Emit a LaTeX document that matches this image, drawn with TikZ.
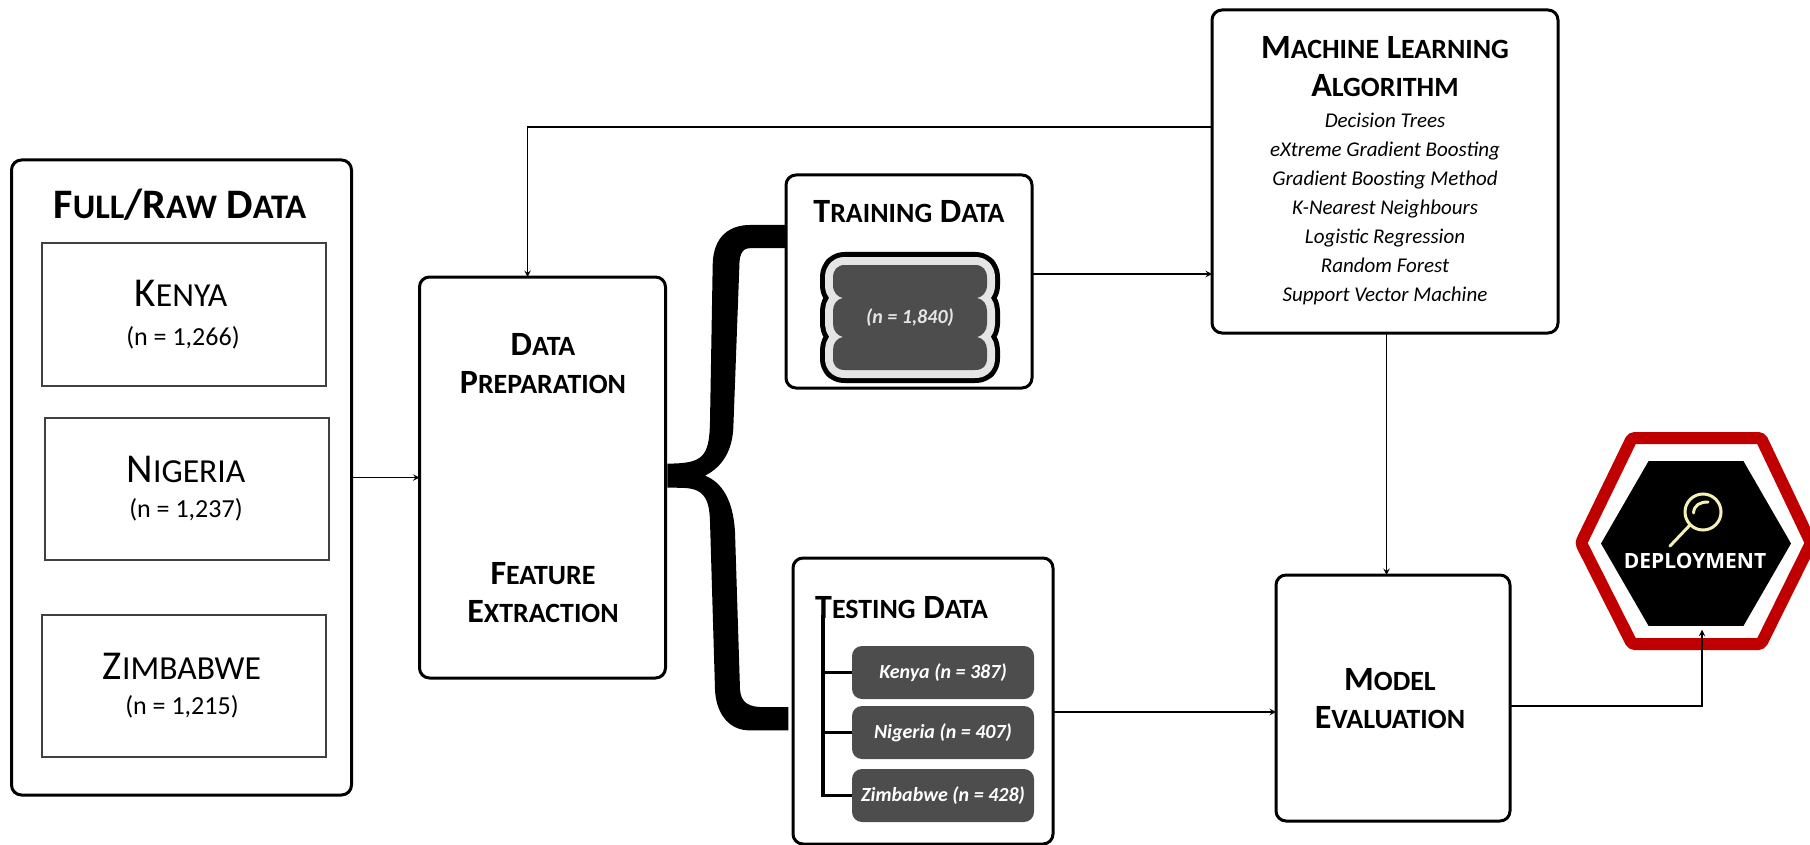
\documentclass[tikz,border=0pt]{standalone}
\usepackage{fontspec}
\setmainfont{Carlito}
\newfontfamily\deployfont{Open Sans}
\usetikzlibrary{positioning,shapes.geometric}
\definecolor{pilldrk}{HTML}{4d4d4d}
\definecolor{rimgray}{HTML}{e5e5e5}
\definecolor{hexred}{HTML}{c00000}
\definecolor{lenscream}{HTML}{f5f0b5}
\newcommand{\low}[1]{\scalebox{0.82}{#1}}
\tikzset{
	mainbox/.style={draw, rounded corners=10pt, line width=3pt, inner sep=0pt, outer sep=0pt},
	thinbox/.style={draw=black!75, line width=1.3pt, inner sep=0pt, outer sep=0pt},
	pill/.style={fill=pilldrk, rounded corners=10pt, minimum width=182pt, minimum height=53pt, inner sep=0pt, outer sep=0pt, text=white, font=\fontsize{20}{24}\selectfont\bfseries\itshape},
	bigtitle/.style={align=center, font=\fontsize{42}{45}\selectfont\bfseries},
	midtitle/.style={align=center, font=\fontsize{34}{38}\selectfont\bfseries},
	country/.style={font=\fontsize{41}{44}\selectfont},
	count/.style={font=\fontsize{26}{28}\selectfont},
	flow/.style={line width=1.8pt, -stealth},
}
\def\drumpath{(845,265) -- (975,265) .. controls (983,265) and (987,270) .. (987,278) -- (987,285) .. controls (987,293) and (982,297) .. (977,298) .. controls (983,299) and (987,304) .. (987,311) -- (987,324) .. controls (987,331) and (982,336) .. (977,337) .. controls (983,338) and (987,343) .. (987,350) -- (987,358) .. controls (987,366) and (983,370) .. (975,370) -- (845,370) .. controls (837,370) and (833,366) .. (833,358) -- (833,350) .. controls (833,343) and (837,338) .. (843,337) .. controls (838,336) and (833,331) .. (833,324) -- (833,311) .. controls (833,304) and (837,299) .. (843,298) .. controls (838,297) and (833,293) .. (833,285) -- (833,278) .. controls (833,270) and (837,265) .. (845,265) -- cycle}

\begin{document}
\begin{tikzpicture}[x=1pt, y=-1pt]
	\useasboundingbox (0,0) rectangle (1810,845);

	% left column
	\node[mainbox, minimum width=340pt, minimum height=635pt] (raw) at (181.5,477.5) {};
	\node[bigtitle] (rawtitle) at (180,205) {F\low{ULL}/R\low{AW} D\low{ATA}};
	\node[thinbox, minimum width=284pt, minimum height=143pt] (kenya) at (184,314.5) {};
	\node[thinbox, minimum width=284pt, minimum height=142pt, below=32pt of kenya, xshift=3pt] (nigeria) {};
	\node[thinbox, minimum width=284pt, minimum height=142pt, below=55pt of nigeria, xshift=-3pt] (zimbabwe) {};
	\node[country] (kenyaname) at (181,293) {K\low{ENYA}};
	\node[count, below=45pt of kenyaname.center, anchor=center, xshift=2pt] (kenyan) {(n = 1,266)};
	\node[country] (nigerianame) at (186,469) {N\low{IGERIA}};
	\node[count, below=41pt of nigerianame.center, anchor=center] (nigerian) {(n = 1,237)};
	\node[country] (zimbabwename) at (182,666) {Z\low{IMBABWE}};
	\node[count, below=41pt of zimbabwename.center, anchor=center] (zimbabwen) {(n = 1,215)};

	% preparation
	\node[mainbox, minimum width=246pt, minimum height=401pt, right=68pt of raw] (prep) {};
	\node[midtitle] (preptext) at (543,364) {D\low{ATA}\\P\low{REPARATION}};
	\node[midtitle] (feattext) at (543,593) {F\low{EATURE}\\E\low{XTRACTION}};

	% brace
	\fill (667.3,463.6) .. controls (703.3,463.6) and (709.3,457) .. (710,421.5) -- (712.7,264.3) .. controls (713.3,236) and (730,225) .. (750,225) -- (786.7,225) -- (786.7,248.2) -- (750,248.2) .. controls (740.7,248.2) and (739.3,257.1) .. (739.3,267.8) -- (733.3,428.5) .. controls (731.7,457.1) and (716.7,469.7) .. (705,475.7) .. controls (721.7,482.1) and (733.3,500) .. (735,532.1) -- (740,689.3) .. controls (740.7,703.6) and (750,707.1) .. (763.3,707.1) -- (788.3,707.1) -- (788.3,730.4) -- (750,730.4) .. controls (726.7,730.4) and (715.7,710.7) .. (715,689.3) -- (710,521.4) .. controls (709.3,500) and (705,488.5) .. (683.3,487.9) -- (667.3,487.5) -- cycle;

	% training
	\node[mainbox, minimum width=246pt, minimum height=213pt] (training) at (909,281.5) {};
	\node[midtitle] (trainingtitle) at (909,212) {T\low{RAINING} D\low{ATA}};
	\draw[black, line width=26pt, line join=round] \drumpath;
	\draw[rimgray, line width=16pt, line join=round] \drumpath;
	\fill[pilldrk] \drumpath;
	\node[text=rimgray, font=\fontsize{20}{24}\selectfont\bfseries\itshape] (trainingn) at (910,318) {(n = 1,840)};

	% testing
	\node[mainbox, minimum width=260pt, minimum height=286pt] (testing) at (923,701) {};
	\node[pill] (testkenya) at (943,672.5) {Kenya (n = 387)};
	\node[pill, below=7pt of testkenya] (testnigeria) {Nigeria (n = 407)};
	\node[pill, below=10pt of testnigeria] (testzimbabwe) {Zimbabwe (n = 428)};
	\node[midtitle, anchor=west, inner sep=0pt] (testingtitle) at (815,608) {T\low{ESTING} D\low{ATA}};
	\coordinate (treetop) at (823,615);
	\draw[line width=3.5pt] (treetop) |- (testzimbabwe.west);
	\draw[line width=3.5pt] (treetop |- testkenya.west) -- (testkenya.west);
	\draw[line width=3.5pt] (treetop |- testnigeria.west) -- (testnigeria.west);

	% algorithm
	\node[mainbox, minimum width=346pt, minimum height=323pt] (algo) at (1385,171.5) {};
	\node[midtitle] (algotitle) at (1385,67) {M\low{ACHINE} L\low{EARNING}\\A\low{LGORITHM}};
	\node[align=center, font=\fontsize{21}{29}\selectfont\itshape] (algolist) at (1385,209) {Decision Trees\\eXtreme Gradient Boosting\\Gradient Boosting Method\\K-Nearest Neighbours\\Logistic Regression\\Random Forest\\Support Vector Machine};

	% evaluation
	\node[mainbox, minimum width=234pt, minimum height=246pt] (evalbox) at (1393,698) {};
	\node[midtitle] (evaltext) at (1390,699) {M\low{ODEL}\\E\low{VALUATION}};

	% deployment
	\draw[hexred, line width=12pt, rounded corners=3pt] (1581,543) -- (1632,438) -- (1761,438) -- (1811,543) -- (1761,644) -- (1632,644) -- cycle;
	\node[regular polygon, regular polygon sides=6, fill=black, minimum size=190pt, inner sep=0pt, outer sep=0pt] (deploy) at (1696,543.5) {};
	\draw[lenscream, line width=3pt] (1703,512) circle (18);
	\draw[lenscream, line width=3pt, line cap=round] (1690,525) -- (1670,546);
	\draw[lenscream, line width=3pt, line cap=round] (1693.5,513) .. controls (1694,505) and (1700,502) .. (1708,502);
	\node[text=white, font=\fontsize{21}{24}\selectfont\deployfont\bfseries] (deploytext) at (1695,561) {DEPLOYMENT};

	% connectors
	\draw[flow] (raw) -- (prep);
	\draw[flow] ([yshift=44.5pt]algo.west) -| ([xshift=-15pt]prep.north);
	\draw[flow] ([yshift=7.5pt]training.east) -- ([yshift=-102.5pt]algo.west);
	\draw[flow] ([yshift=-11pt]testing.east) -- ([yshift=-14pt]evalbox.west);
	\draw[flow] ([xshift=1.5pt]algo.south) -- ([xshift=-6.5pt]evalbox.north);
	\draw[flow] ([yshift=-8pt]evalbox.east) -| ([xshift=6pt,yshift=-4pt]deploy.south);
\end{tikzpicture}
\end{document}
